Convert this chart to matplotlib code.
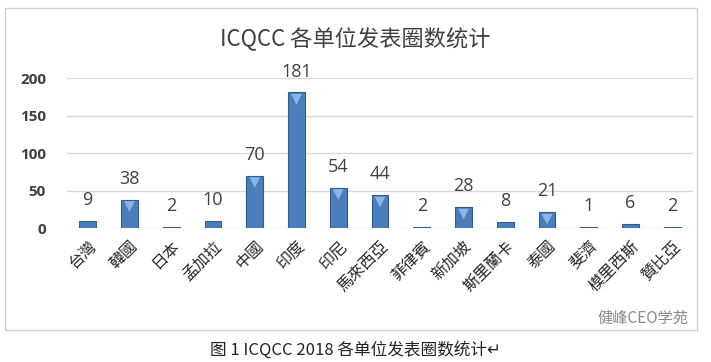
import matplotlib
matplotlib.use('Agg')
import matplotlib.pyplot as plt
import matplotlib.transforms as mtransforms
from matplotlib.patches import Rectangle
import numpy as np

plt.rcParams['font.family'] = ['Noto Sans CJK TC', 'DejaVu Sans']

countries = ['台灣', '韓國', '日本', '孟加拉', '中國', '印度', '印尼', '馬來西亞',
             '菲律賓', '新加坡', '斯里蘭卡', '泰國', '斐濟', '模里西斯', '贊比亞']
counts = [9, 38, 2, 10, 70, 181, 54, 44, 2, 28, 8, 21, 1, 6, 2]
yticks = [0, 50, 100, 150, 200]

fig = plt.figure(figsize=(7.11, 3.62), dpi=100)
ax = fig.add_axes([0.094, 0.370, 0.881, 0.414])

x = np.arange(len(countries))
ax.bar(x, counts, width=0.4, color='#4a7ebb', edgecolor='#2f5d91', linewidth=0.8, zorder=3)
# lighter top facet of the 3D columns (only visible on taller bars), nudged inside the bar
tall = [i for i, v in enumerate(counts) if v >= 20]
shift = mtransforms.ScaledTranslation(0, -5 / 72, fig.dpi_scale_trans)
ax.scatter([x[i] for i in tall], [counts[i] for i in tall], marker='v', s=60,
           color='#8db4e2', edgecolor='none', zorder=4, transform=ax.transData + shift)

for xi, v in zip(x, counts):
    ax.annotate(str(v), (xi, v), xytext=(0, 15), textcoords='offset points',
                ha='center', va='center', fontsize=13, color='#404040',
                family=['Open Sans', 'DejaVu Sans'], annotation_clip=False)

ax.set_xlim(-0.5, len(countries) - 0.5)
ax.set_ylim(0, 200)
ax.set_yticks(yticks)
ax.set_yticklabels([str(t) for t in yticks], fontsize=11, color='#404040',
                   fontweight='bold', family=['Open Sans', 'DejaVu Sans'])
ax.set_xticks(x)
ax.set_xticklabels(countries, rotation=45, ha='right', rotation_mode='anchor',
                   fontsize=11.5, color='#262626')
ax.tick_params(axis='both', length=0)
ax.tick_params(axis='y', pad=15)
ax.tick_params(axis='x', pad=7)
ax.grid(axis='y', color='#d9d9d9', linewidth=1, zorder=0)
for s in ax.spines.values():
    s.set_visible(False)

fig.text(0.5, 0.89, 'ICQCC 各单位发表圈数统计', ha='center', va='center',
         fontsize=16, color='#404040', family=['Noto Sans CJK SC', 'DejaVu Sans'])

# chart border
fig.patches.append(Rectangle((5 / 711, 1 - 330 / 362), 692 / 711, 322 / 362,
                             transform=fig.transFigure, fill=False,
                             edgecolor='#d0d0d0', linewidth=1))

fig.text(0.5, 1 - 350 / 362, '图 1 ICQCC 2018 各单位发表圈数统计↵', ha='center', va='center',
         fontsize=12, color='#222222', family=['Noto Sans CJK SC', 'DejaVu Sans'])
fig.text(0.905, 1 - 318 / 362, '健峰CEO学苑', ha='center', va='center',
         fontsize=11, color='#8a8a8a', family=['Noto Sans CJK SC', 'DejaVu Sans'])

fig.savefig('out.png', dpi=100)
